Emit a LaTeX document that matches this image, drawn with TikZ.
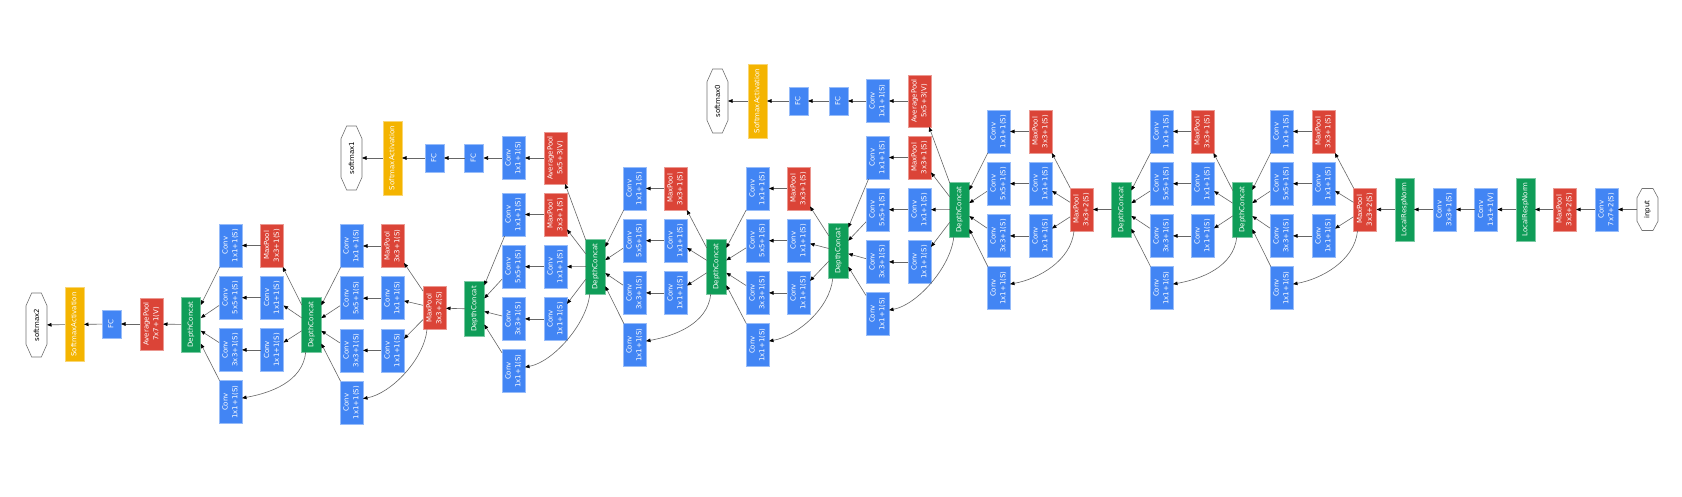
\documentclass[tikz,border=0pt]{standalone}
\usepackage{fontspec}
\newfontfamily\dv{DejaVu Sans}
\usetikzlibrary{arrows.meta}
\definecolor{cblue}{HTML}{4285F4}
\definecolor{cred}{HTML}{DB4437}
\definecolor{cgreen}{HTML}{0F9D58}
\definecolor{cyel}{HTML}{F4B400}
\newcommand\rl[1]{\rotatebox{90}{\begin{tabular}{@{}c@{}}#1\end{tabular}}}
\newcommand\octo[3]{\draw[black!55, line width=0.6pt] ([xshift=-#2]#1.north) -- ([xshift=#2]#1.north) -- ([yshift=-#3]#1.north east) -- ([yshift=#3]#1.south east) -- ([xshift=#2]#1.south) -- ([xshift=-#2]#1.south) -- ([yshift=#3]#1.south west) -- ([yshift=-#3]#1.north west) -- cycle;}
% #1 prefix, #2 dcx, #3 dcy, #4 col1x, #5 col2x, #6 row1y, #7 source
\newcommand\incep[7]{%
  \node[dcat] (#1dc) at (#2,#3) {\rl{DepthConcat}};
  \node[conv] (#1a1) at (#4,#6) {\rl{Conv\\1x1+1(S)}};
  \node[conv] (#1a2) at (#4,#6+52.2) {\rl{Conv\\5x5+1(S)}};
  \node[conv] (#1a3) at (#4,#6+104.4) {\rl{Conv\\3x3+1(S)}};
  \node[conv] (#1a4) at (#4,#6+156.6) {\rl{Conv\\1x1+1(S)}};
  \node[pool] (#1b1) at (#5,#6) {\rl{MaxPool\\3x3+1(S)}};
  \node[conv] (#1b2) at (#5,#6+52.2) {\rl{Conv\\1x1+1(S)}};
  \node[conv] (#1b3) at (#5,#6+104.4) {\rl{Conv\\1x1+1(S)}};
  \draw[edg] (#7) -- (#1b1);
  \draw[edg] (#7) -- (#1b2);
  \draw[edg] (#7) -- (#1b3);
  \draw[edg] ([xshift=4pt]#7.south west) .. controls +(-3,30) and +(28,-5) .. ([yshift=4pt]#1a4.east);
  \draw[edg] (#1b1) -- (#1a1);
  \draw[edg] (#1b2) -- (#1a2);
  \draw[edg] (#1b3) -- (#1a3);
  \draw[edg] (#1a1) -- (#1dc);
  \draw[edg] (#1a2) -- (#1dc);
  \draw[edg] (#1a3) -- (#1dc);
  \draw[edg] (#1a4) -- (#1dc);
}
\begin{document}
\begin{tikzpicture}[x=1pt, y=-1pt,
  every node/.style={font=\dv\fontsize{7}{9.7}\selectfont, inner sep=0pt, outer sep=0pt, text=white},
  blk/.style={draw=#1!55!white, fill=#1, line width=0.7pt},
  conv/.style={blk=cblue, minimum width=23pt, minimum height=43pt},
  pool/.style={blk=cred, minimum width=23pt, minimum height=43pt},
  apool/.style={blk=cred, minimum width=23pt, minimum height=52pt},
  fc/.style={blk=cblue, minimum width=19pt, minimum height=28pt},
  dcat/.style={blk=cgreen, minimum width=19.5pt, minimum height=55pt},
  lrn/.style={blk=cgreen, minimum width=19pt, minimum height=63pt},
  sact/.style={blk=cyel, minimum width=19pt, minimum height=74pt},
  oct/.style={minimum width=21pt, minimum height=64pt, text=black},
  edg/.style={draw=black!60, line width=0.6pt, -{Triangle[length=4.5pt,width=3.6pt,color=black]}}]
\useasboundingbox[fill=white] (0,0) rectangle (1682,497);
% stem
\node[oct, minimum height=42pt] (inp) at (1647.5,209.5) {\rotatebox{90}{input}};
\octo{inp}{5.5pt}{9.3pt}
\node[conv] (c7) at (1606.5,209.5) {\rl{Conv\\7x7+2(S)}};
\node[pool] (mp1) at (1564.5,209.5) {\rl{MaxPool\\3x3+2(S)}};
\node[lrn] (lrn1) at (1525.5,209.5) {\rl{LocalRespNorm}};
\node[conv] (c11) at (1486,209.5) {\rl{Conv\\1x1+1(V)}};
\node[conv] (c33) at (1444.5,209.5) {\rl{Conv\\3x3+1(S)}};
\node[lrn] (lrn2) at (1404.5,209.5) {\rl{LocalRespNorm}};
\node[pool] (mp2) at (1365,209.5) {\rl{MaxPool\\3x3+2(S)}};
\draw[edg] (inp) -- (c7);
\draw[edg] (c7) -- (mp1);
\draw[edg] (mp1) -- (lrn1);
\draw[edg] (lrn1) -- (c11);
\draw[edg] (c11) -- (c33);
\draw[edg] (c33) -- (lrn2);
\draw[edg] (lrn2) -- (mp2);
% inception 3a, 3b
\incep{iA}{1242.5}{209.5}{1281.5}{1323.5}{131.5}{mp2}
\incep{iB}{1121.5}{209.5}{1161.5}{1202.5}{131.5}{iAdc}
\node[pool] (mp3) at (1081.5,209.5) {\rl{MaxPool\\3x3+2(S)}};
\draw[edg] (iBdc) -- (mp3);
% inception 4a..4e
\incep{iC}{959.5}{209.5}{998.5}{1040.5}{131.5}{mp3}
\incep{iD}{838.5}{251}{877.5}{919.5}{157.5}{iCdc}
\incep{iE}{716.5}{266.5}{757.5}{798.5}{188.5}{iDdc}
\incep{iF}{595.5}{266.5}{634.5}{675.5}{188.5}{iEdc}
\incep{iG}{474.5}{309}{513.5}{555.5}{214.5}{iFdc}
\node[pool] (mp4) at (434.5,308) {\rl{MaxPool\\3x3+2(S)}};
\draw[edg] (iGdc) -- (mp4);
% inception 5a, 5b
\incep{iH}{311.5}{324.5}{351.5}{392.5}{246}{mp4}
\incep{iI}{191}{324.5}{230.5}{272}{245.5}{iHdc}
% head
\node[apool] (ap2) at (151.5,324) {\rl{AveragePool\\7x7+1(V)}};
\node[fc] (fc2) at (111.5,324) {\rl{FC}};
\node[sact] (sa2) at (74.5,324.5) {\rl{SoftmaxActivation}};
\node[oct] (sm2) at (36.5,325) {\rotatebox{90}{softmax2}};
\octo{sm2}{4.8pt}{12.7pt}
\draw[edg] (iIdc) -- (ap2);
\draw[edg] (ap2) -- (fc2);
\draw[edg] (fc2) -- (sa2);
\draw[edg] (sa2) -- (sm2);
% aux 0
\node[apool] (ap0) at (919.5,101) {\rl{AveragePool\\5x5+3(V)}};
\node[conv] (cx0) at (877.5,101) {\rl{Conv\\1x1+1(S)}};
\node[fc] (f0a) at (838.5,101) {\rl{FC}};
\node[fc] (f0b) at (798.5,101) {\rl{FC}};
\node[sact] (sa0) at (757.5,101) {\rl{SoftmaxActivation}};
\node[oct] (sm0) at (717.5,101) {\rotatebox{90}{softmax0}};
\octo{sm0}{4.8pt}{12.7pt}
\draw[edg] (iCdc) -- (ap0);
\draw[edg] (ap0) -- (cx0);
\draw[edg] (cx0) -- (f0a);
\draw[edg] (f0a) -- (f0b);
\draw[edg] (f0b) -- (sa0);
\draw[edg] (sa0) -- (sm0);
% aux 1
\node[apool] (ap1) at (555.5,158) {\rl{AveragePool\\5x5+3(V)}};
\node[conv] (cx1) at (513.5,158) {\rl{Conv\\1x1+1(S)}};
\node[fc] (f1a) at (474,158) {\rl{FC}};
\node[fc] (f1b) at (434.5,158) {\rl{FC}};
\node[sact] (sa1) at (392.5,158) {\rl{SoftmaxActivation}};
\node[oct] (sm1) at (351.5,158) {\rotatebox{90}{softmax1}};
\octo{sm1}{4.8pt}{12.7pt}
\draw[edg] (iFdc) -- (ap1);
\draw[edg] (ap1) -- (cx1);
\draw[edg] (cx1) -- (f1a);
\draw[edg] (f1a) -- (f1b);
\draw[edg] (f1b) -- (sa1);
\draw[edg] (sa1) -- (sm1);
\end{tikzpicture}
\end{document}
